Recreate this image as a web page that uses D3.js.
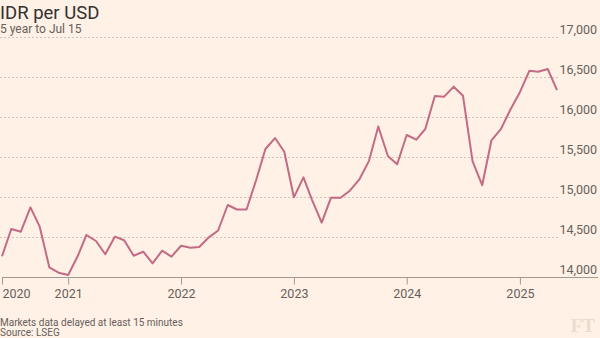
<!DOCTYPE html>
<html>
<head>
<meta charset="utf-8">
<script src="https://cdn.jsdelivr.net/npm/d3@7"></script>
<style>
  html, body { margin: 0; padding: 0; background: #fff1e5; }
  svg { display: block; }
</style>
</head>
<body>
<svg id="chart" width="600" height="338"></svg>
<script>
// ---- data (monthly) ----
const months = [
  "2020-06","2020-07","2020-08","2020-09","2020-10","2020-11","2020-12",
  "2021-01","2021-02","2021-03","2021-04","2021-05","2021-06","2021-07","2021-08","2021-09","2021-10","2021-11","2021-12",
  "2022-01","2022-02","2022-03","2022-04","2022-05","2022-06","2022-07","2022-08","2022-09","2022-10","2022-11","2022-12",
  "2023-01","2023-02","2023-03","2023-04","2023-05","2023-06","2023-07","2023-08","2023-09","2023-10","2023-11","2023-12",
  "2024-01","2024-02","2024-03","2024-04","2024-05","2024-06","2024-07","2024-08","2024-09","2024-10","2024-11","2024-12",
  "2025-01","2025-02","2025-03","2025-04","2025-05"
];
const idrPerUsd = [
  14259,14600,14566,14871,14629,14121,14054,
  14025,14262,14525,14450,14284,14504,14459,14266,14316,14171,14329,14254,
  14391,14366,14375,14496,14581,14900,14844,14844,15212,15600,15737,15566,
  14996,15246,14962,14679,14991,14991,15079,15221,15452,15881,15512,15409,
  15775,15716,15850,16262,16254,16379,16265,15446,15147,15709,15852,16091,
  16310,16579,16566,16600,16337
];
const xTickDates = ["2020-06","2021-01","2022-01","2023-01","2024-01","2025-01"];
const xTickLabels = ["2020","2021","2022","2023","2024","2025"];
const yTicks = [14000, 14500, 15000, 15500, 16000, 16500, 17000];

const titleText = "IDR per USD";
const subtitleText = "5 year to Jul 15";
const noteText = "Markets data delayed at least 15 minutes";
const sourceText = "Source: LSEG";

// ---- drawing ----
const parseMonth = d3.timeParse("%Y-%m");
const data = months.map((m, i) => ({ date: parseMonth(m), value: idrPerUsd[i] }));

const svg = d3.select("#chart");
const W = 600;
const font = "Roboto, 'Open Sans', sans-serif";

const x = d3.scaleTime()
  .domain(d3.extent(data, d => d.date))
  .range([2, 557]);
const y = d3.scaleLinear()
  .domain([14000, 17000])
  .range([277, 37]);

// title
svg.append("text").attr("x", 0).attr("y", 18.5)
  .attr("font-family", font).attr("font-size", 18.5).attr("fill", "#33302e")
  .text(titleText);
svg.append("text").attr("x", 0).attr("y", 33)
  .attr("font-family", font).attr("font-size", 12).attr("fill", "#66605c")
  .text(subtitleText);

// gridlines
svg.append("g").selectAll("line")
  .data(yTicks.filter(v => v > 14000))
  .join("line")
  .attr("x1", 0).attr("x2", 558)
  .attr("y1", d => Math.round(y(d)) + 0.5).attr("y2", d => Math.round(y(d)) + 0.5)
  .attr("stroke", "#cfc4b8").attr("stroke-width", 1)
  .attr("stroke-dasharray", "2,2");

// y labels (right side)
const yAxis = d3.axisLeft(y).tickValues(yTicks).tickSize(0).tickPadding(0)
  .tickFormat(d3.format(","));
const gy = svg.append("g").attr("transform", `translate(597,0)`).call(yAxis);
gy.select(".domain").remove();
gy.selectAll("text")
  .attr("font-family", font).attr("font-size", 12.5).attr("fill", "#66605c")
  .attr("dy", "-0.25em").attr("text-anchor", "end");

// x axis
const xAxis = d3.axisBottom(x)
  .tickValues(xTickDates.map(parseMonth))
  .tickSize(7).tickPadding(5)
  .tickFormat((d, i) => xTickLabels[i]);
const gx = svg.append("g").attr("transform", "translate(0,277.5)").call(xAxis);
gx.select(".domain").attr("d", `M2,0H${W - 2}`).attr("stroke", "#a09a93");
gx.selectAll(".tick line").attr("stroke", "#a09a93");
gx.selectAll("text")
  .attr("font-family", font).attr("font-size", 12.5).attr("fill", "#66605c");
gx.selectAll(".tick").filter((d, i) => i === 0).select("text").attr("text-anchor", "start");

// line
const line = d3.line().x(d => x(d.date)).y(d => y(d.value));
svg.append("path").datum(data)
  .attr("d", line)
  .attr("fill", "none")
  .attr("stroke", "#c36a84")
  .attr("stroke-width", 2)
  .attr("stroke-linejoin", "round");

// footer
svg.append("text").attr("x", 0).attr("y", 325.5)
  .attr("font-family", font).attr("font-size", 10).attr("fill", "#66605c")
  .text(noteText);
svg.append("text").attr("x", 0).attr("y", 336)
  .attr("font-family", font).attr("font-size", 10).attr("fill", "#66605c")
  .text(sourceText);

// FT watermark
svg.append("text").attr("x", 595).attr("y", 332)
  .attr("text-anchor", "end")
  .attr("font-family", "'Liberation Serif', 'DejaVu Serif', serif")
  .attr("font-weight", "bold").attr("font-size", 19)
  .attr("fill", "#ecdccd")
  .text("FT");
</script>
</body>
</html>
